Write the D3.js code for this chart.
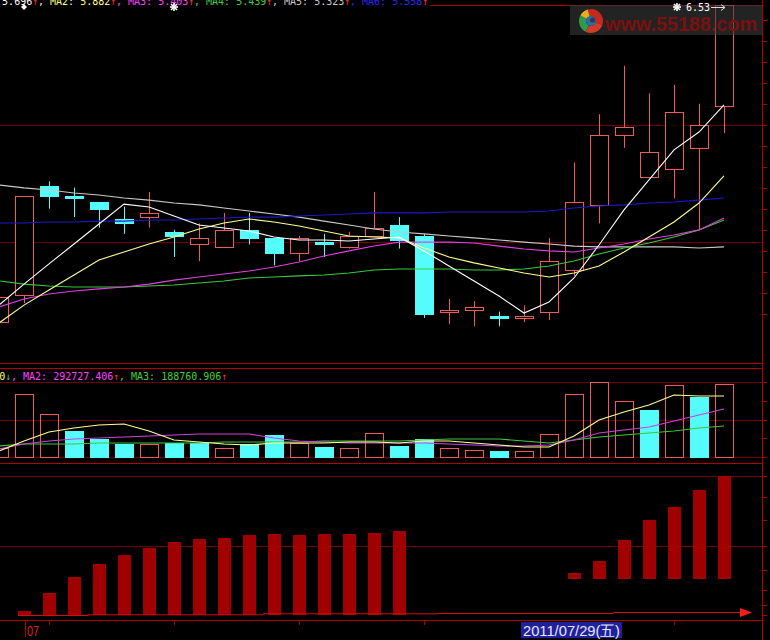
<!DOCTYPE html>
<html><head><meta charset="utf-8">
<script src="https://cdn.jsdelivr.net/npm/d3@7/dist/d3.min.js"></script>
<style>html,body{margin:0;padding:0;background:#000;overflow:hidden}</style>
</head><body>
<svg id="c" width="770" height="640"></svg>
<script>
// ---------------- DATA ----------------
const opens  = [5.02,5.15,5.67,5.62,5.59,5.51,5.52,5.45,5.39,5.38,5.46,5.42,5.35,5.40,5.38,5.43,5.48,5.43,5.07,5.08,5.05,5.04,5.07,5.27,5.58,5.91,5.71,5.75,5.85,6.05];
const highs  = [5.14,5.62,5.69,5.66,5.59,5.57,5.64,5.46,5.49,5.54,5.54,5.42,5.43,5.44,5.45,5.64,5.52,5.44,5.13,5.12,5.07,5.10,5.42,5.78,6.01,6.24,6.11,6.15,6.06,6.53];
const lows   = [5.02,5.11,5.56,5.52,5.47,5.44,5.47,5.33,5.31,5.38,5.39,5.29,5.31,5.33,5.37,5.43,5.37,5.04,5.01,5.00,5.00,5.02,5.03,5.24,5.49,5.85,5.71,5.61,5.46,5.92];
const closes = [5.14,5.62,5.62,5.61,5.56,5.49,5.54,5.43,5.42,5.46,5.42,5.35,5.42,5.39,5.43,5.47,5.41,5.06,5.08,5.09,5.04,5.05,5.31,5.59,5.91,5.95,5.83,6.02,5.96,6.53];

const ma1 = [5.101,5.201,5.297,5.392,5.487,5.582,5.568,5.525,5.482,5.468,5.454,5.425,5.411,5.411,5.406,5.416,5.425,5.359,5.287,5.216,5.144,5.063,5.116,5.230,5.387,5.554,5.697,5.840,5.925,6.054];
const ma2 = [5.016,5.101,5.173,5.244,5.316,5.354,5.392,5.425,5.463,5.492,5.511,5.497,5.478,5.454,5.430,5.425,5.421,5.373,5.330,5.302,5.278,5.254,5.235,5.254,5.287,5.354,5.425,5.497,5.587,5.716];
const ma3 = [5.092,5.130,5.154,5.168,5.178,5.187,5.201,5.220,5.235,5.249,5.263,5.282,5.306,5.335,5.359,5.382,5.401,5.401,5.401,5.397,5.382,5.368,5.359,5.354,5.373,5.392,5.416,5.435,5.459,5.516];
const ma4 = [5.216,5.201,5.192,5.187,5.187,5.187,5.192,5.197,5.206,5.216,5.230,5.235,5.240,5.244,5.254,5.268,5.273,5.273,5.273,5.268,5.268,5.273,5.287,5.311,5.344,5.373,5.397,5.425,5.459,5.506];
const ma5 = [5.673,5.659,5.649,5.635,5.625,5.611,5.601,5.587,5.578,5.563,5.549,5.535,5.520,5.501,5.482,5.463,5.449,5.440,5.430,5.421,5.411,5.401,5.392,5.382,5.378,5.378,5.378,5.378,5.373,5.378];
const ma6 = [5.492,5.492,5.497,5.497,5.501,5.501,5.506,5.506,5.511,5.516,5.520,5.520,5.525,5.530,5.535,5.540,5.540,5.540,5.544,5.544,5.544,5.544,5.549,5.563,5.573,5.578,5.587,5.592,5.601,5.611];

const volumes = [54900,384300,262300,158600,109800,79300,79300,85400,85400,54900,79300,134200,85400,61000,54900,146400,67100,109800,54900,42700,36600,36600,140300,384300,457500,341600,286700,439200,366000,445300];
const volUp   = [1,1,1,0,0,0,1,0,0,1,0,0,1,0,1,1,0,0,1,1,0,1,1,1,1,1,0,1,0,1];
const volMa1 = [36600,97600,152500,176900,195200,201300,158600,103700,91500,79300,73200,85400,85400,85400,91500,91500,85400,97600,97600,85400,73200,61000,61000,128100,225700,274500,317200,378200,372100,372100];
const volMa2 = [48800,79300,97600,109800,115900,122000,128100,134200,140300,140300,140300,115900,97600,91500,85400,85400,85400,85400,79300,73200,67100,67100,73200,103700,146400,164700,183000,219600,256200,292800];
const volMa3 = [67100,79300,79300,79300,85400,85400,85400,85400,85400,91500,91500,91500,91500,97600,97600,97600,97600,103700,109800,109800,109800,97600,85400,103700,122000,134200,146400,158600,176900,189100];

// lower indicator bars: base and top (null = no bar)
const indBase = [null,0,0,0,0,0,0,0,0,0,0,0,0,0,0,0,0,null,null,null,null,null,null,36,36,36,36,36,36,36];
const indTop  = [null,4,22,38,51,60,67,73,76,77,80,81,80,81,81,82,84,null,null,null,null,null,null,42,54,75,95,108,125,139];
const indLine = [0,0,0,0,0.7,0.7,0.7,0.7,0.7,0.7,0.7,1.7,1.7,1.7,1.7,1.7,1.7,1.7,2,2,2,2,2,2,2,3,3,3,3,3];

const priceTicks = [6.46,6.36,6.26,6.16,6.06,5.96,5.86,5.76,5.66,5.56,5.46,5.36,5.26,5.16,5.06];
const priceGrid = [5.96,5.40];
const tickIdx = [2,7,12,17,27];
const monthLabel = {i:1, text:"07"};
const cursorLabel = {i:22, text:"2011/07/29(五)"};
const highLabel = {i:29, text:"6.53"};

const titleSegs = [
  {t:"MA1: 5.696", c:"#ffffff"},{t:"↑", c:"#ff3030"},{t:", MA2: 5.882", c:"#ffff80"},{t:"↑", c:"#ff3030"},
  {t:", MA3: 5.403", c:"#ff40ff"},{t:"↑", c:"#ff3030"},{t:", MA4: 5.439", c:"#40d040"},{t:"↑", c:"#ff3030"},
  {t:", MA5: 5.323", c:"#c8c8c8"},{t:"↑", c:"#ff3030"},{t:", MA6: 5.558", c:"#2828ff"},{t:"↑", c:"#ff3030"}];
const volSegs = [
  {t:"MA1: 372114.000", c:"#ffff80"},{t:"↓", c:"#40d040"},{t:", MA2: 292727.406", c:"#ff40ff"},{t:"↑", c:"#ff3030"},
  {t:", MA3: 188760.906", c:"#40d040"},{t:"↑", c:"#ff3030"}];

// ---------------- DRAW ----------------
const svg = d3.select("#c");
svg.append("rect").attr("width",770).attr("height",640).attr("fill","#000");

const RED = "#f05a5a", CYAN = "#54fcfc", FRAME="#b00000", GRID="#6a0000";
const x = d3.scaleLinear().domain([0,29]).range([-1,724]);
const y = d3.scaleLinear().domain([4.95,6.53]).range([5+(6.53-4.95)*210,5]);
const yv = d3.scaleLinear().domain([0,457500]).range([457,382]);
const yi = d3.scaleLinear().domain([0,140]).range([615,475]);

const defs = svg.append("defs");
defs.append("clipPath").attr("id","cm").append("rect").attr("x",0).attr("y",5).attr("width",762).attr("height",358);
defs.append("clipPath").attr("id","cv").append("rect").attr("x",0).attr("y",368).attr("width",762).attr("height",95);

// frame lines
const hl = (yy,c,x1=0,x2=762)=>svg.append("line").attr("x1",x1).attr("x2",x2).attr("y1",yy+0.5).attr("y2",yy+0.5).attr("stroke",c);
hl(5,FRAME); hl(363,FRAME); hl(368,FRAME); hl(463,FRAME); hl(620,FRAME);
priceGrid.forEach(p=>hl(Math.round(y(p)),GRID));
hl(382,GRID); hl(420,GRID); hl(457,GRID);
hl(476,GRID); hl(546,GRID);
svg.append("line").attr("x1",762.5).attr("x2",762.5).attr("y1",0).attr("y2",640).attr("stroke",FRAME);
// right ticks
priceTicks.forEach(p=>{const yy=Math.round(y(p))+0.5; svg.append("line").attr("x1",763).attr("x2",767).attr("y1",yy).attr("y2",yy).attr("stroke",FRAME);});
[382,401,420,438,457].forEach(yy=>svg.append("line").attr("x1",763).attr("x2",767).attr("y1",yy+0.5).attr("y2",yy+0.5).attr("stroke",FRAME));
[0,10,25,45,69,95,118,139].forEach(v=>{const yy=Math.round(yi(v))+0.5; svg.append("line").attr("x1",763).attr("x2",767).attr("y1",yy).attr("y2",yy).attr("stroke",FRAME);});

// candles
const gc = svg.append("g").attr("clip-path","url(#cm)");
closes.forEach((c,i)=>{
  const o=opens[i], h=highs[i], l=lows[i];
  const cx = Math.round(x(i))+0.5;
  const up = c>=o;
  const top = Math.round(y(Math.max(o,c))), bot = Math.round(y(Math.min(o,c)));
  const col = up?RED:CYAN;
  if(up){
    gc.append("line").attr("x1",cx).attr("x2",cx).attr("y1",y(h)).attr("y2",top).attr("stroke",col);
    gc.append("line").attr("x1",cx).attr("x2",cx).attr("y1",bot).attr("y2",y(l)).attr("stroke",col);
    gc.append("rect").attr("x",cx-9).attr("y",top+0.5).attr("width",18).attr("height",Math.max(1,bot-top)).attr("fill","#000").attr("stroke",col);
  } else {
    gc.append("line").attr("x1",cx).attr("x2",cx).attr("y1",y(h)).attr("y2",y(l)).attr("stroke",col);
    gc.append("rect").attr("x",cx-9.5).attr("y",top).attr("width",19).attr("height",Math.max(2,bot-top+1)).attr("fill",col);
  }
});
// MA lines
const line = d3.line().x((d,i)=>x(i)).y(d=>y(d));
[[ma5,"#c8c8c8"],[ma6,"#1a1ac8"],[ma4,"#3cc83c"],[ma3,"#e040e0"],[ma2,"#ffff90"],[ma1,"#ffffff"]].forEach(([d,c])=>{
  gc.append("path").datum(d).attr("d",line).attr("fill","none").attr("stroke",c).attr("stroke-width",1.1);
});

// volume
const gv = svg.append("g").attr("clip-path","url(#cv)");
volumes.forEach((v,i)=>{
  const cx = Math.round(x(i))+0.5;
  const t = Math.round(yv(v));
  if(volUp[i]) gv.append("rect").attr("x",cx-9).attr("y",t+0.5).attr("width",18).attr("height",457-t).attr("fill","none").attr("stroke",RED);
  else gv.append("rect").attr("x",cx-9.5).attr("y",t).attr("width",19).attr("height",457-t+1).attr("fill",CYAN);
});
const vline = d3.line().x((d,i)=>x(i)).y(d=>yv(d));
[[volMa3,"#3cc83c"],[volMa2,"#d040e0"],[volMa1,"#ffff90"]].forEach(([d,c])=>{
  gv.append("path").datum(d).attr("d",vline).attr("fill","none").attr("stroke",c).attr("stroke-width",1.1);
});

// indicator bars
indTop.forEach((t,i)=>{
  if(t===null) return;
  const cx = Math.round(x(i));
  svg.append("rect").attr("x",cx-6).attr("y",yi(t)).attr("width",13).attr("height",yi(indBase[i])-yi(t)).attr("fill","#a00000");
});
svg.append("path").datum(indLine).attr("d",d3.line().x((d,i)=>Math.max(18,x(i)-11)).y(d=>yi(d)+0.5).curve(d3.curveStepAfter)).attr("fill","none").attr("stroke","#d01010");
svg.append("line").attr("x1",x(29)-11).attr("x2",742).attr("y1",yi(3)+0.5).attr("y2",yi(3)+0.5).attr("stroke","#d01010");
svg.append("path").attr("d",`M740,${yi(3)-4}L752,${yi(3)+0.5}L740,${yi(3)+5}Z`).attr("fill","#ff1a1a");

// x axis
tickIdx.forEach(i=>svg.append("line").attr("x1",Math.round(x(i))+0.5).attr("x2",Math.round(x(i))+0.5).attr("y1",621).attr("y2",625).attr("stroke",FRAME));
svg.append("line").attr("x1",x(monthLabel.i)+1.5).attr("x2",x(monthLabel.i)+1.5).attr("y1",621).attr("y2",637).attr("stroke",FRAME);
svg.append("text").attr("x",x(monthLabel.i)+3).attr("y",636).text(monthLabel.text).attr("fill","#e02020")
  .attr("font-family","'Liberation Sans Narrow','Arial Narrow','Liberation Sans',sans-serif").attr("font-size",15).attr("textLength",12).attr("lengthAdjust","spacingAndGlyphs");
svg.append("rect").attr("x",521).attr("y",622).attr("width",101).attr("height",16).attr("fill","#20209a");
svg.append("text").attr("x",523).attr("y",636).text(cursorLabel.text).attr("fill","#e8e8ff")
  .attr("font-family","'Liberation Sans Narrow','Arial Narrow','Liberation Sans',sans-serif").attr("font-size",15).attr("textLength",97).attr("lengthAdjust","spacingAndGlyphs");

// headers
function segs(arr,x0,yy){
  let cx=x0;
  arr.forEach(s=>{
    svg.append("text").attr("x",cx).attr("y",yy).text(s.t).attr("fill",s.c)
      .attr("font-family","'DejaVu Sans Mono','Liberation Mono',monospace").attr("font-size",10);
    cx += s.t.length*6;
  });
}
svg.append("rect").attr("x",0).attr("y",0).attr("width",430).attr("height",6).attr("fill","#000");
segs(titleSegs,-28,4.5);
segs(volSegs,-85,380);

// markers
svg.append("path").attr("d","M24,4L27,7L24,10L21,7Z").attr("fill","#fff");
function star(cx,cy){
  const g=svg.append("g").attr("stroke","#fff").attr("stroke-width",1.6);
  [[0,4],[4,0],[3,3],[3,-3]].forEach(([a,b])=>g.append("line").attr("x1",cx-a).attr("y1",cy-b).attr("x2",cx+a).attr("y2",cy+b));
}
star(174,7);

// watermark
const wm = svg.append("g");
wm.append("rect").attr("x",570).attr("y",5).attr("width",192).attr("height",30).attr("fill","#3a3a3a").attr("opacity",0.6);
const lg = wm.append("g").attr("transform","translate(591,21)");
const arc = d3.arc();
lg.append("path").attr("d",arc({innerRadius:5,outerRadius:12,startAngle:-0.3,endAngle:1.9})).attr("fill","#c8281e");
lg.append("path").attr("d",arc({innerRadius:5,outerRadius:12,startAngle:1.9,endAngle:3.6})).attr("fill","#d23c28");
lg.append("path").attr("d",arc({innerRadius:5,outerRadius:12,startAngle:3.6,endAngle:5.2})).attr("fill","#2e9a4a");
lg.append("path").attr("d",arc({innerRadius:5,outerRadius:12,startAngle:5.2,endAngle:6.0})).attr("fill","#e0b020");
lg.append("circle").attr("r",5).attr("fill","#2a6ab0");
lg.append("circle").attr("cx",1.5).attr("cy",-1).attr("r",2.5).attr("fill","#3a3a3a");
wm.append("text").attr("x",605).attr("y",31).text("www.55188.com").attr("fill","#7a1010")
  .attr("font-family","'Liberation Sans',Arial,sans-serif").attr("font-weight","bold").attr("font-size",20)
  .attr("textLength",152).attr("lengthAdjust","spacingAndGlyphs");

// high label
star(677,7);
svg.append("text").attr("x",686).attr("y",11).text(highLabel.text).attr("fill","#fff")
  .attr("font-family","'DejaVu Sans Mono','Liberation Mono',monospace").attr("font-size",10);
svg.append("line").attr("x1",711).attr("x2",725).attr("y1",7.5).attr("y2",7.5).attr("stroke","#ddd");
svg.append("path").attr("d","M721,4.5L725,7.5L721,10.5").attr("fill","none").attr("stroke","#ddd");
</script>
</body></html>
